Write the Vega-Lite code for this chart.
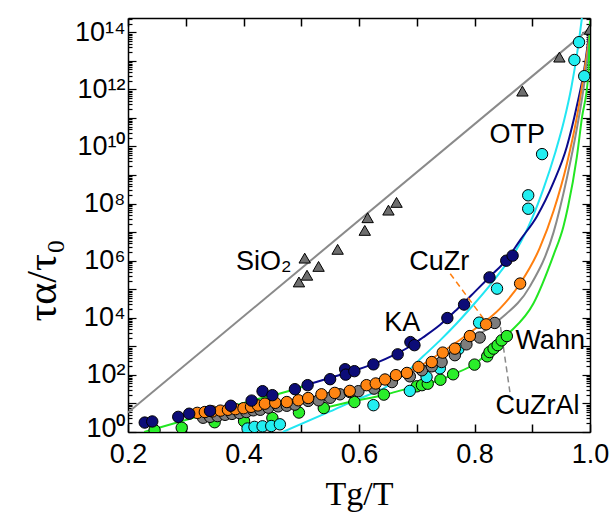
{
  "$schema": "https://vega.github.io/schema/vega-lite/v6.json",
  "width": 462,
  "height": 414,
  "autosize": {"type": "none"},
  "padding": {"left": 128, "top": 18, "right": 25, "bottom": 91},
  "background": "white",
  "config": {"view": {"stroke": null}, "axis": {"grid": false}},
  "datasets": {
    "lines": [
      {"series": "SiO2", "seg": "SiO2", "x": 0.2, "y": 4.8},
      {"series": "SiO2", "seg": "SiO2", "x": 1.0, "y": 1.4e14},
      {"series": "OTP", "seg": "OTP", "x": 0.468, "y": 1},
      {"series": "OTP", "seg": "OTP", "x": 0.55, "y": 5.25},
      {"series": "OTP", "seg": "OTP", "x": 0.6, "y": 14.8},
      {"series": "OTP", "seg": "OTP", "x": 0.642, "y": 33},
      {"series": "OTP", "seg": "OTP", "x": 0.68, "y": 112},
      {"series": "OTP", "seg": "OTP", "x": 0.711, "y": 447},
      {"series": "OTP", "seg": "OTP", "x": 0.74, "y": 1585},
      {"series": "OTP", "seg": "OTP", "x": 0.769, "y": 6300},
      {"series": "OTP", "seg": "OTP", "x": 0.8, "y": 3.16e4},
      {"series": "OTP", "seg": "OTP", "x": 0.827, "y": 1.4e5},
      {"series": "OTP", "seg": "OTP", "x": 0.85, "y": 5.6e5},
      {"series": "OTP", "seg": "OTP", "x": 0.873, "y": 2.5e6},
      {"series": "OTP", "seg": "OTP", "x": 0.9, "y": 3.16e7},
      {"series": "OTP", "seg": "OTP", "x": 0.919, "y": 3.16e8},
      {"series": "OTP", "seg": "OTP", "x": 0.94, "y": 6.3e9},
      {"series": "OTP", "seg": "OTP", "x": 0.955, "y": 7.9e10},
      {"series": "OTP", "seg": "OTP", "x": 0.968, "y": 1.26e12},
      {"series": "OTP", "seg": "OTP", "x": 0.978, "y": 2e13},
      {"series": "OTP", "seg": "OTP", "x": 0.986, "y": 3.16e14},
      {"series": "KA", "seg": "KA", "x": 0.485, "y": 29.5},
      {"series": "KA", "seg": "KA", "x": 0.515, "y": 47.9},
      {"series": "KA", "seg": "KA", "x": 0.55, "y": 79.4},
      {"series": "KA", "seg": "KA", "x": 0.596, "y": 151},
      {"series": "KA", "seg": "KA", "x": 0.63, "y": 263},
      {"series": "KA", "seg": "KA", "x": 0.66, "y": 490},
      {"series": "KA", "seg": "KA", "x": 0.69, "y": 1047},
      {"series": "KA", "seg": "KA", "x": 0.71, "y": 2000},
      {"series": "KA", "seg": "KA", "x": 0.74, "y": 5600},
      {"series": "KA", "seg": "KA", "x": 0.77, "y": 2.0e4},
      {"series": "KA", "seg": "KA", "x": 0.8, "y": 7.9e4},
      {"series": "KA", "seg": "KA", "x": 0.827, "y": 2.8e5},
      {"series": "KA", "seg": "KA", "x": 0.856, "y": 1.12e6},
      {"series": "KA", "seg": "KA", "x": 0.88, "y": 5.6e6},
      {"series": "KA", "seg": "KA", "x": 0.908, "y": 3.55e7},
      {"series": "KA", "seg": "KA", "x": 0.937, "y": 5.6e8},
      {"series": "KA", "seg": "KA", "x": 0.96, "y": 1e10},
      {"series": "KA", "seg": "KA", "x": 0.977, "y": 2.5e11},
      {"series": "KA", "seg": "KA", "x": 0.99, "y": 5e12},
      {"series": "KA", "seg": "KA", "x": 1.0, "y": 1.6e14},
      {"series": "CuZr", "seg": "CuZr", "x": 0.32, "y": 4.57},
      {"series": "CuZr", "seg": "CuZr", "x": 0.4, "y": 7.08},
      {"series": "CuZr", "seg": "CuZr", "x": 0.5, "y": 14.1},
      {"series": "CuZr", "seg": "CuZr", "x": 0.6, "y": 35.5},
      {"series": "CuZr", "seg": "CuZr", "x": 0.654, "y": 85},
      {"series": "CuZr", "seg": "CuZr", "x": 0.7, "y": 178},
      {"series": "CuZr", "seg": "CuZr", "x": 0.74, "y": 562},
      {"series": "CuZr", "seg": "CuZr", "x": 0.8, "y": 3980},
      {"series": "CuZr", "seg": "CuZr", "x": 0.844, "y": 2.1e4},
      {"series": "CuZr", "seg": "CuZr", "x": 0.879, "y": 1.58e5},
      {"series": "CuZr", "seg": "CuZr", "x": 0.913, "y": 2.8e6},
      {"series": "CuZr", "seg": "CuZr", "x": 0.937, "y": 5.6e7},
      {"series": "CuZr", "seg": "CuZr", "x": 0.96, "y": 2.5e9},
      {"series": "CuZr", "seg": "CuZr", "x": 0.977, "y": 1e11},
      {"series": "CuZr", "seg": "CuZr", "x": 0.99, "y": 4e12},
      {"series": "CuZr", "seg": "CuZr", "x": 1.0, "y": 1e14},
      {"series": "CuZrAl", "seg": "CuZrAl", "x": 0.33, "y": 3.16},
      {"series": "CuZrAl", "seg": "CuZrAl", "x": 0.4, "y": 5.0},
      {"series": "CuZrAl", "seg": "CuZrAl", "x": 0.5, "y": 10},
      {"series": "CuZrAl", "seg": "CuZrAl", "x": 0.6, "y": 26.3},
      {"series": "CuZrAl", "seg": "CuZrAl", "x": 0.671, "y": 85},
      {"series": "CuZrAl", "seg": "CuZrAl", "x": 0.72, "y": 224},
      {"series": "CuZrAl", "seg": "CuZrAl", "x": 0.786, "y": 1413},
      {"series": "CuZrAl", "seg": "CuZrAl", "x": 0.844, "y": 8900},
      {"series": "CuZrAl", "seg": "CuZrAl", "x": 0.896, "y": 1.26e5},
      {"series": "CuZrAl", "seg": "CuZrAl", "x": 0.937, "y": 1e7},
      {"series": "CuZrAl", "seg": "CuZrAl", "x": 0.96, "y": 7.9e8},
      {"series": "CuZrAl", "seg": "CuZrAl", "x": 0.977, "y": 4e10},
      {"series": "CuZrAl", "seg": "CuZrAl", "x": 0.99, "y": 1.6e12},
      {"series": "CuZrAl", "seg": "CuZrAl", "x": 1.0, "y": 7.9e13},
      {"series": "Wahn", "seg": "WahnA", "x": 0.228, "y": 1.0},
      {"series": "Wahn", "seg": "WahnA", "x": 0.3, "y": 2.63},
      {"series": "Wahn", "seg": "WahnA", "x": 0.36, "y": 6.0},
      {"series": "Wahn", "seg": "WahnA", "x": 0.43, "y": 15.1},
      {"series": "Wahn", "seg": "WahnA", "x": 0.485, "y": 29.5},
      {"series": "Wahn", "seg": "WahnA", "x": 0.515, "y": 47.9},
      {"series": "Wahn", "seg": "WahnB", "x": 0.535, "y": 6.6},
      {"series": "Wahn", "seg": "WahnB", "x": 0.59, "y": 12},
      {"series": "Wahn", "seg": "WahnB", "x": 0.642, "y": 19.5},
      {"series": "Wahn", "seg": "WahnB", "x": 0.671, "y": 28.2},
      {"series": "Wahn", "seg": "WahnB", "x": 0.703, "y": 41.7},
      {"series": "Wahn", "seg": "WahnB", "x": 0.741, "y": 67.6},
      {"series": "Wahn", "seg": "WahnB", "x": 0.763, "y": 105},
      {"series": "Wahn", "seg": "WahnB", "x": 0.8, "y": 240},
      {"series": "Wahn", "seg": "WahnB", "x": 0.83, "y": 760},
      {"series": "Wahn", "seg": "WahnB", "x": 0.856, "y": 2455},
      {"series": "Wahn", "seg": "WahnB", "x": 0.902, "y": 3.16e4},
      {"series": "Wahn", "seg": "WahnB", "x": 0.937, "y": 1.6e6},
      {"series": "Wahn", "seg": "WahnB", "x": 0.954, "y": 1.58e7},
      {"series": "Wahn", "seg": "WahnB", "x": 0.962, "y": 7.9e7},
      {"series": "Wahn", "seg": "WahnB", "x": 0.977, "y": 4e9},
      {"series": "Wahn", "seg": "WahnB", "x": 0.986, "y": 1e11},
      {"series": "Wahn", "seg": "WahnB", "x": 0.997, "y": 3.16e12},
      {"series": "Wahn", "seg": "WahnB", "x": 1.0, "y": 2.5e14}
    ],
    "pts": [
      {"series": "SiO2", "x": 0.496, "y": 1.8e5},
      {"series": "SiO2", "x": 0.51, "y": 3.1e5},
      {"series": "SiO2", "x": 0.53, "y": 6.3e5},
      {"series": "SiO2", "x": 0.506, "y": 1.23e6},
      {"series": "SiO2", "x": 0.563, "y": 2.5e6},
      {"series": "SiO2", "x": 0.61, "y": 1.15e7},
      {"series": "SiO2", "x": 0.615, "y": 3.2e7},
      {"series": "SiO2", "x": 0.651, "y": 5.9e7},
      {"series": "SiO2", "x": 0.665, "y": 1.1e8},
      {"series": "SiO2", "x": 0.883, "y": 8.7e11},
      {"series": "SiO2", "x": 0.947, "y": 1.35e13},
      {"series": "SiO2", "x": 1.0, "y": 1.26e14},
      {"series": "Wahn", "x": 0.246, "y": 1.15},
      {"series": "Wahn", "x": 0.293, "y": 1.41},
      {"series": "Wahn", "x": 0.35, "y": 2.2},
      {"series": "Wahn", "x": 0.401, "y": 2.4},
      {"series": "Wahn", "x": 0.45, "y": 3.1},
      {"series": "Wahn", "x": 0.496, "y": 4.8},
      {"series": "Wahn", "x": 0.539, "y": 6.9},
      {"series": "Wahn", "x": 0.592, "y": 11.2},
      {"series": "Wahn", "x": 0.643, "y": 20.4},
      {"series": "Wahn", "x": 0.7, "y": 39.8},
      {"series": "Wahn", "x": 0.709, "y": 43.7},
      {"series": "Wahn", "x": 0.719, "y": 49},
      {"series": "Wahn", "x": 0.741, "y": 67.6},
      {"series": "Wahn", "x": 0.763, "y": 105},
      {"series": "Wahn", "x": 0.8, "y": 229},
      {"series": "Wahn", "x": 0.822, "y": 447},
      {"series": "Wahn", "x": 0.826, "y": 631},
      {"series": "Wahn", "x": 0.833, "y": 832},
      {"series": "Wahn", "x": 0.84, "y": 1100},
      {"series": "Wahn", "x": 0.847, "y": 1620},
      {"series": "Wahn", "x": 0.856, "y": 2290},
      {"series": "OTP", "x": 0.407, "y": 1.32},
      {"series": "OTP", "x": 0.419, "y": 1.51},
      {"series": "OTP", "x": 0.433, "y": 1.58},
      {"series": "OTP", "x": 0.448, "y": 1.62},
      {"series": "OTP", "x": 0.463, "y": 1.86},
      {"series": "OTP", "x": 0.625, "y": 8.7},
      {"series": "OTP", "x": 0.688, "y": 27.5},
      {"series": "OTP", "x": 0.717, "y": 85},
      {"series": "OTP", "x": 0.74, "y": 170},
      {"series": "OTP", "x": 0.772, "y": 794},
      {"series": "OTP", "x": 0.808, "y": 6760},
      {"series": "OTP", "x": 0.839, "y": 1.05e5},
      {"series": "OTP", "x": 0.893, "y": 6.6e7},
      {"series": "OTP", "x": 0.893, "y": 1.95e8},
      {"series": "OTP", "x": 0.917, "y": 5.4e9},
      {"series": "OTP", "x": 0.973, "y": 1.07e13},
      {"series": "OTP", "x": 0.981, "y": 4.5e13},
      {"series": "OTP", "x": 0.99, "y": 2.9e12},
      {"series": "CuZrAl", "x": 0.33, "y": 3.16},
      {"series": "CuZrAl", "x": 0.342, "y": 3.4},
      {"series": "CuZrAl", "x": 0.355, "y": 3.6},
      {"series": "CuZrAl", "x": 0.368, "y": 4.0},
      {"series": "CuZrAl", "x": 0.38, "y": 4.3},
      {"series": "CuZrAl", "x": 0.393, "y": 4.6},
      {"series": "CuZrAl", "x": 0.405, "y": 5.0},
      {"series": "CuZrAl", "x": 0.417, "y": 5.75},
      {"series": "CuZrAl", "x": 0.429, "y": 6.0},
      {"series": "CuZrAl", "x": 0.443, "y": 7.1},
      {"series": "CuZrAl", "x": 0.46, "y": 7.9},
      {"series": "CuZrAl", "x": 0.475, "y": 8.3},
      {"series": "CuZrAl", "x": 0.489, "y": 9.1},
      {"series": "CuZrAl", "x": 0.512, "y": 12.3},
      {"series": "CuZrAl", "x": 0.53, "y": 12.9},
      {"series": "CuZrAl", "x": 0.55, "y": 15.8},
      {"series": "CuZrAl", "x": 0.567, "y": 20.9},
      {"series": "CuZrAl", "x": 0.584, "y": 25.1},
      {"series": "CuZrAl", "x": 0.599, "y": 26.9},
      {"series": "CuZrAl", "x": 0.626, "y": 33.1},
      {"series": "CuZrAl", "x": 0.657, "y": 56},
      {"series": "CuZrAl", "x": 0.688, "y": 89},
      {"series": "CuZrAl", "x": 0.709, "y": 145},
      {"series": "CuZrAl", "x": 0.726, "y": 200},
      {"series": "CuZrAl", "x": 0.743, "y": 282},
      {"series": "CuZrAl", "x": 0.766, "y": 490},
      {"series": "CuZrAl", "x": 0.786, "y": 1175},
      {"series": "CuZrAl", "x": 0.809, "y": 2040},
      {"series": "CuZrAl", "x": 0.835, "y": 6600},
      {"series": "CuZr", "x": 0.32, "y": 4.68},
      {"series": "CuZr", "x": 0.333, "y": 5.0},
      {"series": "CuZr", "x": 0.346, "y": 5.25},
      {"series": "CuZr", "x": 0.36, "y": 5.6},
      {"series": "CuZr", "x": 0.373, "y": 6.0},
      {"series": "CuZr", "x": 0.386, "y": 6.3},
      {"series": "CuZr", "x": 0.4, "y": 6.8},
      {"series": "CuZr", "x": 0.413, "y": 7.6},
      {"series": "CuZr", "x": 0.425, "y": 8.5},
      {"series": "CuZr", "x": 0.437, "y": 9.8},
      {"series": "CuZr", "x": 0.455, "y": 10.5},
      {"series": "CuZr", "x": 0.475, "y": 11.2},
      {"series": "CuZr", "x": 0.495, "y": 12.9},
      {"series": "CuZr", "x": 0.512, "y": 15.5},
      {"series": "CuZr", "x": 0.535, "y": 20.9},
      {"series": "CuZr", "x": 0.558, "y": 23.4},
      {"series": "CuZr", "x": 0.584, "y": 27.5},
      {"series": "CuZr", "x": 0.613, "y": 43.7},
      {"series": "CuZr", "x": 0.629, "y": 50},
      {"series": "CuZr", "x": 0.645, "y": 69},
      {"series": "CuZr", "x": 0.664, "y": 98},
      {"series": "CuZr", "x": 0.683, "y": 117},
      {"series": "CuZr", "x": 0.703, "y": 190},
      {"series": "CuZr", "x": 0.726, "y": 282},
      {"series": "CuZr", "x": 0.745, "y": 603},
      {"series": "CuZr", "x": 0.766, "y": 832},
      {"series": "CuZr", "x": 0.792, "y": 2290},
      {"series": "CuZr", "x": 0.82, "y": 5900},
      {"series": "CuZr", "x": 0.879, "y": 1.58e5},
      {"series": "KA", "x": 0.229, "y": 2.14},
      {"series": "KA", "x": 0.242, "y": 2.34},
      {"series": "KA", "x": 0.287, "y": 3.39},
      {"series": "KA", "x": 0.306, "y": 4.37},
      {"series": "KA", "x": 0.342, "y": 5.5},
      {"series": "KA", "x": 0.378, "y": 8.3},
      {"series": "KA", "x": 0.414, "y": 12.6},
      {"series": "KA", "x": 0.433, "y": 26.9},
      {"series": "KA", "x": 0.45, "y": 19.5},
      {"series": "KA", "x": 0.489, "y": 31.6},
      {"series": "KA", "x": 0.511, "y": 43.7},
      {"series": "KA", "x": 0.55, "y": 70.8},
      {"series": "KA", "x": 0.576, "y": 158},
      {"series": "KA", "x": 0.577, "y": 102},
      {"series": "KA", "x": 0.592, "y": 135},
      {"series": "KA", "x": 0.625, "y": 234},
      {"series": "KA", "x": 0.667, "y": 525},
      {"series": "KA", "x": 0.689, "y": 1410},
      {"series": "KA", "x": 0.696, "y": 1100},
      {"series": "KA", "x": 0.753, "y": 9800},
      {"series": "KA", "x": 0.782, "y": 2.9e4},
      {"series": "KA", "x": 0.826, "y": 2.6e5},
      {"series": "KA", "x": 0.855, "y": 1.0e6},
      {"series": "KA", "x": 0.866, "y": 1.5e6}
    ],
    "leaders": [
      {"series": "CuZr", "x": 0.758, "y": 3.5e5},
      {"series": "CuZr", "x": 0.82, "y": 7100},
      {"series": "CuZrAl", "x": 0.845, "y": 4800},
      {"series": "CuZrAl", "x": 0.862, "y": 20}
    ],
    "labels": [
      {"text": "SiO₂", "x": 0.435, "y": 9.3e5},
      {"text": "OTP", "x": 0.874, "y": 2.45e10},
      {"text": "KA", "x": 0.675, "y": 6400},
      {"text": "CuZr", "x": 0.739, "y": 9.3e5},
      {"text": "Wahn", "x": 0.931, "y": 1480},
      {"text": "CuZrAl", "x": 0.909, "y": 7.9}
    ]
  },
  "layer": [
    {
      "data": {"name": "lines"},
      "mark": {"type": "line", "interpolate": "monotone", "strokeWidth": 2, "clip": true},
      "encoding": {
        "x": {
          "field": "x", "type": "quantitative",
          "scale": {"domain": [0.2, 1.0], "nice": false, "zero": false},
          "axis": {
            "orient": "bottom",
            "values": [0.2, 0.3, 0.4, 0.5, 0.6, 0.7, 0.8, 0.9, 1.0],
            "labelExpr": "indexof([0.2, 0.4, 0.6, 0.8, 1], datum.value) >= 0 ? format(datum.value, '.1f') : ''",
            "labelFlush": false,
            "labelFont": "Liberation Sans", "labelFontSize": 27, "labelColor": "black",
            "labelPadding": 17,
            "tickSize": -8, "tickWidth": 1.5, "tickColor": "black",
            "domainColor": "black", "domainWidth": 1.5,
            "title": "Tg/T", "titleFont": "Liberation Serif", "titleFontSize": 34,
            "titleFontWeight": "normal", "titleColor": "black", "titlePadding": 10
          }
        },
        "y": {
          "field": "y", "type": "quantitative",
          "scale": {"type": "log", "domain": [1, 3.16e14], "nice": false},
          "axis": {
            "orient": "left",
            "values": [1,2,3,4,5,6,7,8,9,10,20,30,40,50,60,70,80,90,100,200,300,400,500,600,700,800,900,1e3,2e3,3e3,4e3,5e3,6e3,7e3,8e3,9e3,1e4,2e4,3e4,4e4,5e4,6e4,7e4,8e4,9e4,1e5,2e5,3e5,4e5,5e5,6e5,7e5,8e5,9e5,1e6,2e6,3e6,4e6,5e6,6e6,7e6,8e6,9e6,1e7,2e7,3e7,4e7,5e7,6e7,7e7,8e7,9e7,1e8,2e8,3e8,4e8,5e8,6e8,7e8,8e8,9e8,1e9,2e9,3e9,4e9,5e9,6e9,7e9,8e9,9e9,1e10,2e10,3e10,4e10,5e10,6e10,7e10,8e10,9e10,1e11,2e11,3e11,4e11,5e11,6e11,7e11,8e11,9e11,1e12,2e12,3e12,4e12,5e12,6e12,7e12,8e12,9e12,1e13,2e13,3e13,4e13,5e13,6e13,7e13,8e13,9e13,1e14,2e14,3e14],
            "labelExpr": "datum.value == 1 ? '10⁰' : datum.value == 100 ? '10²' : datum.value == 10000 ? '10⁴' : datum.value == 1000000 ? '10⁶' : datum.value == 100000000 ? '10⁸' : datum.value == 10000000000 ? '10¹⁰' : datum.value == 1000000000000 ? '10¹²' : datum.value == 100000000000000 ? '10¹⁴' : ''",
            "labelFont": "Liberation Sans", "labelFontSize": 27, "labelColor": "black",
            "labelPadding": 11, "labelFlush": false, "labelOverlap": false,
            "labelOffset": {"condition": {"test": "datum.value == 1", "value": -4}, "value": 0},
            "tickSize": {"condition": {"test": "abs(log(datum.value)/LN10 - round(log(datum.value)/LN10)) < 0.001", "value": -8}, "value": -4},
            "tickWidth": 1.2, "tickColor": "black",
            "domainColor": "black", "domainWidth": 1.5,
            "title": "τα/τ₀", "titleFont": "Liberation Serif", "titleFontSize": 42,
            "titleFontWeight": "normal", "titleColor": "black", "titlePadding": 10, "titleY": 262
          }
        },
        "stroke": {
          "field": "series", "type": "nominal",
          "scale": {"domain": ["SiO2", "OTP", "KA", "CuZr", "CuZrAl", "Wahn"], "range": ["#8a8a8a", "#22e6f2", "#0a0a8c", "#ff7f0f", "#8a8a8a", "#22e622"]},
          "legend": null
        },
        "detail": {"field": "seg", "type": "nominal"}
      }
    },
    {
      "data": {"name": "leaders"},
      "mark": {"type": "line", "strokeWidth": 1.5, "strokeDash": [6, 4], "clip": true},
      "encoding": {
        "x": {"field": "x", "type": "quantitative", "axis": null},
        "y": {"field": "y", "type": "quantitative", "axis": null},
        "stroke": {"field": "series", "type": "nominal", "legend": null},
        "detail": {"field": "series", "type": "nominal"}
      }
    },
    {
      "data": {"name": "pts"},
      "mark": {"type": "point", "filled": true, "stroke": "black", "strokeWidth": 1, "opacity": 1, "size": 130, "clip": true},
      "encoding": {
        "x": {"field": "x", "type": "quantitative", "axis": null},
        "y": {"field": "y", "type": "quantitative", "axis": null},
        "fill": {
          "field": "series", "type": "nominal",
          "scale": {"domain": ["SiO2", "OTP", "KA", "CuZr", "CuZrAl", "Wahn"], "range": ["#6e6e6e", "#22eef0", "#0c0c78", "#ff8512", "#7d7d7d", "#2aee2a"]},
          "legend": null
        },
        "shape": {
          "field": "series", "type": "nominal",
          "scale": {"domain": ["SiO2", "OTP", "KA", "CuZr", "CuZrAl", "Wahn"], "range": ["triangle-up", "circle", "circle", "circle", "circle", "circle"]},
          "legend": null
        }
      }
    },
    {
      "data": {"name": "labels"},
      "mark": {"type": "text", "font": "Liberation Sans", "fontSize": 27, "align": "center", "baseline": "middle", "color": "black"},
      "encoding": {
        "x": {
          "field": "x", "type": "quantitative",
          "axis": {
            "orient": "top",
            "values": [0.2, 0.3, 0.4, 0.5, 0.6, 0.7, 0.8, 0.9, 1.0],
            "labels": false, "title": null,
            "tickSize": -8, "tickWidth": 1.5, "tickColor": "black",
            "domainColor": "black", "domainWidth": 1.5
          }
        },
        "y": {
          "field": "y", "type": "quantitative",
          "axis": {
            "orient": "right",
            "values": [1,2,3,4,5,6,7,8,9,10,20,30,40,50,60,70,80,90,100,200,300,400,500,600,700,800,900,1e3,2e3,3e3,4e3,5e3,6e3,7e3,8e3,9e3,1e4,2e4,3e4,4e4,5e4,6e4,7e4,8e4,9e4,1e5,2e5,3e5,4e5,5e5,6e5,7e5,8e5,9e5,1e6,2e6,3e6,4e6,5e6,6e6,7e6,8e6,9e6,1e7,2e7,3e7,4e7,5e7,6e7,7e7,8e7,9e7,1e8,2e8,3e8,4e8,5e8,6e8,7e8,8e8,9e8,1e9,2e9,3e9,4e9,5e9,6e9,7e9,8e9,9e9,1e10,2e10,3e10,4e10,5e10,6e10,7e10,8e10,9e10,1e11,2e11,3e11,4e11,5e11,6e11,7e11,8e11,9e11,1e12,2e12,3e12,4e12,5e12,6e12,7e12,8e12,9e12,1e13,2e13,3e13,4e13,5e13,6e13,7e13,8e13,9e13,1e14,2e14,3e14],
            "labels": false, "title": null,
            "tickSize": {"condition": {"test": "abs(log(datum.value)/LN10 - round(log(datum.value)/LN10)) < 0.001", "value": -8}, "value": -4},
            "tickWidth": 1.2, "tickColor": "black",
            "domainColor": "black", "domainWidth": 1.5
          }
        },
        "text": {"field": "text", "type": "nominal"}
      }
    }
  ],
  "resolve": {"axis": {"x": "independent", "y": "independent"}}
}
